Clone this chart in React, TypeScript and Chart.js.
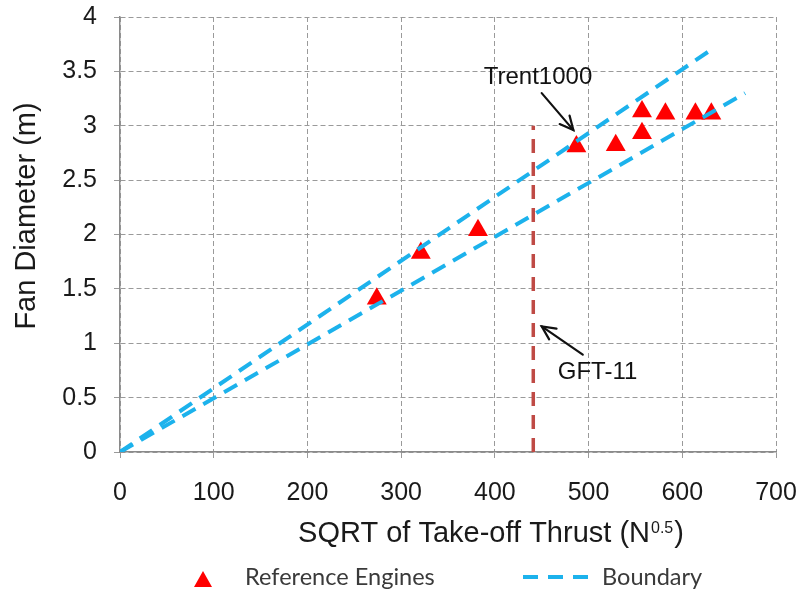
import React, { useEffect, useRef } from "react";
import { Chart, registerables } from "chart.js";

Chart.register(...registerables);

// ---- data ----
const xTickValues = [0, 100, 200, 300, 400, 500, 600, 700];
const yTickValues = [0, 0.5, 1, 1.5, 2, 2.5, 3, 3.5, 4];
const yTickLabels = ["0", "0.5", "1", "1.5", "2", "2.5", "3", "3.5", "4"];

const engineX = [274, 321, 382, 487, 529, 557, 557, 582, 614, 631];
const engineY = [1.41, 1.83, 2.04, 2.81, 2.82, 3.13, 2.93, 3.11, 3.11, 3.11];

const upperBoundaryX = [0, 631];
const upperBoundaryY = [0, 3.7];
const lowerBoundaryX = [0, 667];
const lowerBoundaryY = [0, 3.3];

const gftX = [441, 441];
const gftY = [0, 3.0];

const seriesNames = ["Reference Engines", "Boundary"];
const xTitleMain = "SQRT of Take-off Thrust (N";
const xTitleSup = "0.5";
const xTitleEnd = ")";
const yTitle = "Fan Diameter (m)";

// annotations (in data units)
const annotationLabels = ["Trent1000", "GFT-11"];
const annotationTextAt = [
  [446, 3.38],
  [509.6, 0.674],
];
const annotationArrowFrom = [
  [450, 3.3],
  [493.8, 0.896],
];
const annotationArrowTo = [
  [483.8, 2.96],
  [450, 1.155],
];

const BLUE = "#1cb2ec";
const RED = "#ff0000";
const DARKRED = "#bf4a45";
const SANS = '"Liberation Sans", Arial, sans-serif';
const CAL = 'Lato, "Open Sans", sans-serif';

function drawArrow(ctx: CanvasRenderingContext2D, x0: number, y0: number, x1: number, y1: number) {
  ctx.beginPath();
  ctx.moveTo(x0, y0);
  ctx.lineTo(x1, y1);
  ctx.stroke();
  const a = Math.atan2(y1 - y0, x1 - x0);
  const L = 15;
  const sp = 0.45;
  ctx.beginPath();
  ctx.moveTo(x1 - L * Math.cos(a - sp), y1 - L * Math.sin(a - sp));
  ctx.lineTo(x1, y1);
  ctx.lineTo(x1 - L * Math.cos(a + sp), y1 - L * Math.sin(a + sp));
  ctx.stroke();
}

const decor = {
  id: "decor",
  afterDatasetsDraw(chart: any) {
    const { ctx, scales } = chart;
    const x = scales.x;
    const y = scales.y;
    ctx.save();
    ctx.fillStyle = "#111";
    ctx.strokeStyle = "#111";
    ctx.lineWidth = 2.2;
    ctx.lineCap = "round";
    ctx.font = `24px ${SANS}`;
    ctx.textAlign = "center";
    ctx.textBaseline = "alphabetic";
    annotationLabels.forEach((t, i) => {
      ctx.fillText(t, x.getPixelForValue(annotationTextAt[i][0]), y.getPixelForValue(annotationTextAt[i][1]));
      drawArrow(
        ctx,
        x.getPixelForValue(annotationArrowFrom[i][0]),
        y.getPixelForValue(annotationArrowFrom[i][1]),
        x.getPixelForValue(annotationArrowTo[i][0]),
        y.getPixelForValue(annotationArrowTo[i][1])
      );
    });
    ctx.restore();
  },
  afterDraw(chart: any) {
    const { ctx } = chart;
    ctx.save();
    ctx.fillStyle = "#1a1a1a";
    ctx.textBaseline = "alphabetic";

    // x axis title with superscript
    ctx.font = `29px ${SANS}`;
    const wMain = ctx.measureText(xTitleMain).width;
    const wEnd = ctx.measureText(xTitleEnd).width;
    ctx.font = `16px ${SANS}`;
    const wSup = ctx.measureText(xTitleSup).width;
    const total = wMain + wSup + 2 + wEnd;
    let sx = 491 - total / 2;
    const base = 541.5;
    ctx.textAlign = "left";
    ctx.font = `29px ${SANS}`;
    ctx.fillText(xTitleMain, sx, base);
    sx += wMain + 1;
    ctx.font = `16px ${SANS}`;
    ctx.fillText(xTitleSup, sx, base - 9);
    sx += wSup + 1;
    ctx.font = `29px ${SANS}`;
    ctx.fillText(xTitleEnd, sx, base);

    // y axis title
    ctx.save();
    ctx.translate(35, 216);
    ctx.rotate(-Math.PI / 2);
    ctx.textAlign = "center";
    ctx.font = `29px ${SANS}`;
    ctx.fillText(yTitle, 0, 0);
    ctx.restore();

    // legend
    ctx.font = `25px ${CAL}`;
    const wRef = ctx.measureText(seriesNames[0]).width;
    const lsize = (25 * 190) / wRef;
    ctx.font = `${lsize}px ${CAL}`;
    ctx.fillStyle = "#3a3a3a";
    ctx.textAlign = "left";
    ctx.fillText(seriesNames[0], 245, 585);
    ctx.fillText(seriesNames[1], 602, 585);

    ctx.fillStyle = RED;
    ctx.beginPath();
    ctx.moveTo(203, 571);
    ctx.lineTo(212, 587);
    ctx.lineTo(194, 587);
    ctx.closePath();
    ctx.fill();

    ctx.strokeStyle = BLUE;
    ctx.lineWidth = 4;
    ctx.setLineDash([15, 10]);
    ctx.beginPath();
    ctx.moveTo(523, 577);
    ctx.lineTo(590, 577);
    ctx.stroke();
    ctx.restore();
  },
};

function pts(xs: number[], ys: number[]) {
  return xs.map((x, i) => ({ x, y: ys[i] }));
}

export default function App() {
  const ref = useRef<HTMLCanvasElement>(null);
  useEffect(() => {
    const canvas = ref.current;
    if (!canvas) return;
    const gridCommon = {
      color: "#9a9a9a",
      lineWidth: 1,
      tickLength: 6,
      tickColor: "#9a9a9a",
      drawTicks: true,
    };
    const chart = new Chart(canvas, {
      type: "scatter",
      data: {
        datasets: [
          {
            label: seriesNames[1],
            data: pts(upperBoundaryX, upperBoundaryY),
            showLine: true,
            borderColor: BLUE,
            borderWidth: 4,
            borderDash: [15, 9],
            pointRadius: 0,
            order: 1,
          },
          {
            label: seriesNames[1],
            data: pts(lowerBoundaryX, lowerBoundaryY),
            showLine: true,
            borderColor: BLUE,
            borderWidth: 4,
            borderDash: [15, 9],
            pointRadius: 0,
            order: 1,
          },
          {
            label: "GFT-11",
            data: pts(gftX, gftY),
            showLine: true,
            borderColor: DARKRED,
            borderWidth: 3.5,
            borderDash: [14, 9],
            pointRadius: 0,
            order: 2,
          },
          {
            label: seriesNames[0],
            data: pts(engineX, engineY),
            showLine: false,
            pointStyle: "triangle",
            pointRadius: 11.5,
            pointBorderWidth: 0,
            backgroundColor: RED,
            borderColor: RED,
            order: 3,
          },
        ],
      } as any,
      options: {
        responsive: false,
        animation: false,
        layout: { padding: { top: 17, right: 22, left: 0, bottom: 0 } },
        plugins: { legend: { display: false }, tooltip: { enabled: false } },
        scales: {
          x: {
            type: "linear",
            min: 0,
            max: 700,
            afterBuildTicks: (s: any) => {
              s.ticks = xTickValues.map((v) => ({ value: v }));
            },
            afterFit: (s: any) => {
              s.height = 141;
              s.paddingLeft = 0;
              s.paddingRight = 0;
            },
            grid: gridCommon,
            border: { display: true, color: "#8a8a8a", width: 1.5, dash: [5, 3] },
            ticks: {
              padding: 20,
              color: "#1a1a1a",
              font: { family: SANS, size: 25 },
              maxRotation: 0,
              autoSkip: false,
              callback: (v: any) => String(v),
            },
          },
          y: {
            type: "linear",
            min: 0,
            max: 4,
            afterBuildTicks: (s: any) => {
              s.ticks = yTickValues.map((v) => ({ value: v }));
            },
            afterFit: (s: any) => {
              s.width = 120;
              s.paddingTop = 0;
              s.paddingBottom = 0;
            },
            grid: gridCommon,
            border: { display: true, color: "#8a8a8a", width: 1.5, dash: [5, 3] },
            ticks: {
              padding: 17,
              color: "#1a1a1a",
              font: { family: SANS, size: 25 },
              autoSkip: false,
              callback: (v: any) => {
                const i = yTickValues.indexOf(Number(v));
                return i >= 0 ? yTickLabels[i] : String(v);
              },
            },
          },
        },
      } as any,
      plugins: [decor],
    });
    return () => chart.destroy();
  }, []);
  return (
    <div style={{ position: "fixed", left: 0, top: 0, width: 798, height: 593, background: "#fff" }}>
      <canvas ref={ref} width={798} height={593} style={{ display: "block" }} />
    </div>
  );
}
